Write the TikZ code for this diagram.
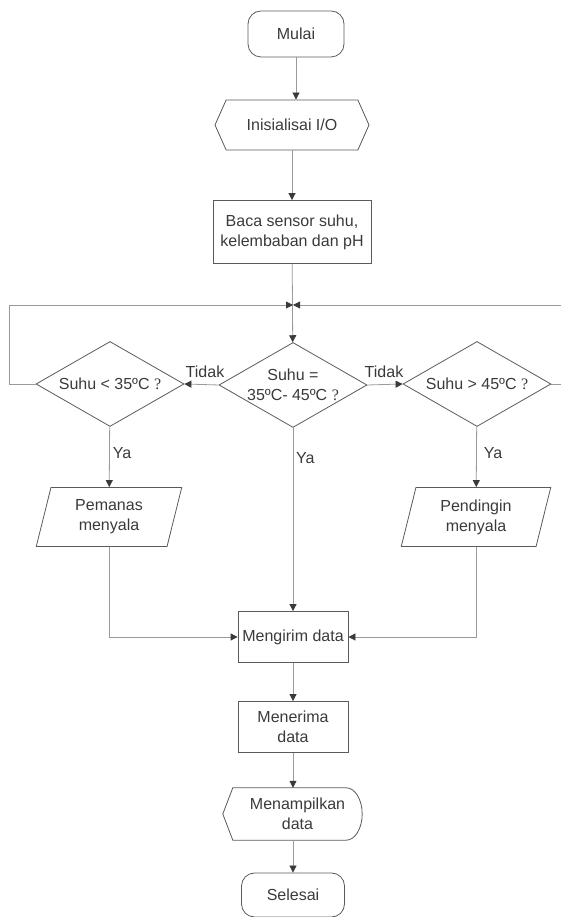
\documentclass[tikz,border=0pt]{standalone}
\usepackage{fontspec}
\setmainfont{Liberation Sans}
\newfontfamily\tandafont{Liberation Serif}
\usetikzlibrary{shapes.geometric, shapes.symbols, arrows.meta}
\definecolor{garisabu}{HTML}{9A9A9A}
\definecolor{tepiabu}{HTML}{5A5A5A}
\definecolor{teksabu}{HTML}{3A3A3A}
\tikzset{
  every node/.style={font=\fontsize{16}{20}\selectfont, text=teksabu, align=center},
  terminal/.style={draw=tepiabu, line width=0.8pt, rounded corners=13pt, minimum width=96pt, minimum height=46pt, inner sep=0pt},
  proses/.style={draw=tepiabu, line width=0.8pt, rectangle, inner sep=0pt},
  persiapan/.style={draw=tepiabu, line width=0.8pt, signal, signal to=west and east, signal pointer angle=132, minimum width=154pt, minimum height=50pt, inner sep=0pt},
  keputusan/.style={draw=tepiabu, line width=0.8pt, diamond, aspect=1.74, minimum width=148pt, minimum height=85pt, inner sep=0pt},
  masukan/.style={draw=tepiabu, line width=0.8pt, trapezium, trapezium left angle=76, trapezium right angle=104, minimum width=136pt, minimum height=59pt, inner sep=0pt},
  tepi/.style={draw=tepiabu, line width=0.8pt},
  garis/.style={draw=garisabu, line width=0.8pt},
  panah/.style={garis, -{Triangle[length=7pt,width=7pt,color=teksabu]}},
}

\begin{document}
\begin{tikzpicture}[x=1pt, y=1pt]
\useasboundingbox (0,0) rectangle (561,917);
%\draw[help lines, color=gray!30] (0,0) grid[step=50] (561,917);
\node [terminal] (mulai) at (296,883) {Mulai};
\node [persiapan] (init) at (292,792) {Inisialisai I/O};
\node [proses, minimum width=158pt, minimum height=63pt] (baca) at (292,685) {Baca sensor suhu,\\kelembaban dan pH};
\coordinate (junc) at (293,612);
\coordinate (kiri) at (9,612);
\coordinate (kanan) at (575,612);

\node [keputusan] (cek) at (293,532) {Suhu =\\35ºC- 45ºC {\tandafont ?}};
\node [keputusan] (kurang) at (110,533) {Suhu < 35ºC {\tandafont ?}};
\node [keputusan] (lebih) at (477,533) {Suhu > 45ºC {\tandafont ?}};

\node [masukan] (pemanas) at (109,400) {Pemanas\\menyala};
\node [masukan] (pendingin) at (476,400) {Pendingin\\menyala};

\node [proses, minimum width=110pt, minimum height=51pt] (kirim) at (293,280) {Mengirim data};
\node [proses, minimum width=110pt, minimum height=51pt] (terima) at (293,190) {Menerima\\data};
\node [minimum width=129pt, minimum height=52pt, inner sep=0pt] (tampil) at (297.5,103) {Menampilkan\\data};
\draw [tepi] (tampil.north west) -- ([xshift=-10pt]tampil.west) -- (tampil.south west)
  -- ([xshift=-16pt]tampil.south east) .. controls +(8.8,0) and +(0,-14.4) .. (tampil.east)
  .. controls +(0,14.4) and +(8.8,0) .. ([xshift=-16pt]tampil.north east) -- cycle;
\node [terminal, minimum width=103pt, minimum height=44pt] (selesai) at (293,22) {Selesai};

\draw [panah] (mulai) -- (mulai |- init.north);
\draw [panah] (init.south -| baca) -- (baca);
\draw [panah] (baca) -- (cek);
\draw [panah] (kurang.west) -| (kiri) -- (junc);
\draw [panah] (lebih.east) -| (kanan) -- (junc);

\draw [panah] (cek.west) -- (kurang.east);
\node (tidak_kiri) at (205,545) {Tidak};
\draw [panah] (cek.east) -- (lebih.west);
\node (tidak_kanan) at (384,545) {Tidak};

\draw [panah] (kurang) -- (pemanas);
\node (ya_kiri) at (122,464) {Ya};
\draw [panah] (cek) -- (kirim);
\node [anchor=west, inner sep=1pt] (ya_tengah) at (295,459) {Ya};
\draw [panah] (lebih) -- (pendingin);
\node (ya_kanan) at (493,464) {Ya};

\draw [panah] (pemanas) |- (kirim);
\draw [panah] (pendingin) |- (kirim);
\draw [panah] (kirim) -- (terima);
\draw [panah] (terima) -- (terima |- tampil.north);
\draw [panah] (tampil.south -| selesai) -- (selesai);
\end{tikzpicture}
\end{document}
